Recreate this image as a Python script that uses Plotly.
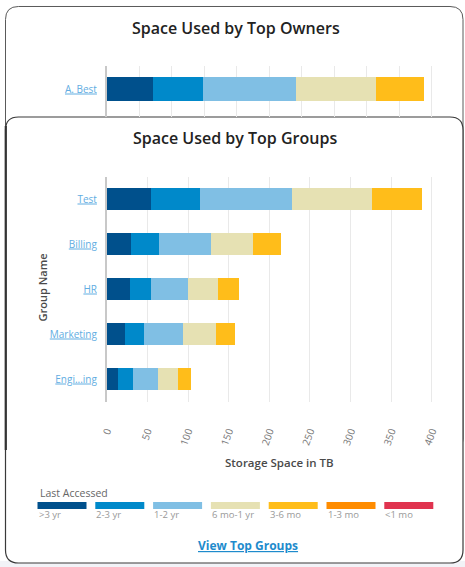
import plotly.graph_objects as go

W, H = 465, 567

# Last-accessed buckets (stack order, left to right) and their colours
buckets = [">3 yr", "2-3 yr", "1-2 yr", "6 mo-1 yr", "3-6 mo", "1-3 mo", "<1 mo"]
bucket_colors = ["#00508c", "#0089ca", "#80bfe4", "#e6e1b3", "#ffbd1a", "#ff8c00", "#e0334f"]

# Space used by top owners (TB)
owners = ["A. Best"]
owner_gt3yr = [56.6]
owner_2_3yr = [61.5]
owner_1_2yr = [114.8]
owner_6mo_1yr = [98.5]
owner_3_6mo = [58.2]
owner_1_3mo = [0]
owner_lt1mo = [0]

# Space used by top groups (TB)
groups = ["Test", "Billing", "HR", "Marketing", "Engi...ing"]
group_gt3yr = [54.5, 30.3, 28.7, 22.9, 13.9]
group_2_3yr = [60.3, 33.7, 25.5, 23.0, 18.5]
group_1_2yr = [113.2, 64.0, 45.9, 48.4, 30.4]
group_6mo_1yr = [98.8, 51.7, 37.3, 39.9, 25.0]
group_3_6mo = [60.7, 34.8, 25.8, 23.4, 16.0]
group_1_3mo = [0, 0, 0, 0, 0]
group_lt1mo = [0, 0, 0, 0, 0]

x_ticks = [0, 50, 100, 150, 200, 250, 300, 350, 400]

owner_series = [owner_gt3yr, owner_2_3yr, owner_1_2yr, owner_6mo_1yr,
                owner_3_6mo, owner_1_3mo, owner_lt1mo]
group_series = [group_gt3yr, group_2_3yr, group_1_2yr, group_6mo_1yr,
                group_3_6mo, group_1_3mo, group_lt1mo]

FONT = "Open Sans"


def px(x):
    return x / W


def py(y):
    return 1 - y / H


def rounded_rect(x0, y0, x1, y1, r):
    pts = [
        ("M", (x0 + r, y0)), ("L", (x1 - r, y0)),
        ("Q", (x1, y0), (x1, y0 + r)), ("L", (x1, y1 - r)),
        ("Q", (x1, y1), (x1 - r, y1)), ("L", (x0 + r, y1)),
        ("Q", (x0, y1), (x0, y1 - r)), ("L", (x0, y0 + r)),
        ("Q", (x0, y0), (x0 + r, y0)),
    ]
    out = []
    for cmd, *coords in pts:
        out.append(cmd + " " + " ".join(f"{px(a):.5f},{py(b):.5f}" for a, b in coords))
    return " ".join(out) + " Z"


fig = go.Figure()

for name, color, vals in zip(buckets, bucket_colors, group_series):
    fig.add_trace(go.Bar(
        x=vals, y=groups, orientation="h", name=name,
        marker=dict(color=color, line=dict(width=0)),
        xaxis="x", yaxis="y", showlegend=False,
    ))

for name, color, vals in zip(buckets, bucket_colors, owner_series):
    fig.add_trace(go.Bar(
        x=vals, y=owners, orientation="h", name=name,
        marker=dict(color=color, line=dict(width=0)),
        xaxis="x2", yaxis="y2", showlegend=False,
    ))

x_dom = [px(106.7), px(452.3)]
grid = "#e9e9e9"
axis_line = "#c8c8c8"
link_font = dict(family=FONT, size=10, color="#62ade2", lineposition="under")

# Owners card plot: clipped where the groups card starts
bar_unit = 46.0
own_top, own_bot, own_center = 66.0, 117.0, 89.0

fig.update_layout(
    width=W, height=H,
    margin=dict(l=0, r=0, t=0, b=0, autoexpand=False),
    paper_bgcolor="white",
    plot_bgcolor="rgba(0,0,0,0)",
    barmode="stack",
    bargap=0.49,
    showlegend=False,
    font=dict(family=FONT),
    xaxis=dict(
        domain=x_dom, anchor="y", range=[0, 425], automargin=False,
        tickmode="array", tickvals=x_ticks, ticktext=[str(v) for v in x_ticks],
        tickangle=-70, tickfont=dict(family=FONT, size=10, color="#777777"),
        ticks="outside", ticklen=19, tickcolor="rgba(0,0,0,0)",
        showgrid=True, gridcolor=grid, gridwidth=1, zeroline=False,
        showline=False, fixedrange=True,
    ),
    yaxis=dict(
        domain=[py(401.5), py(176.5)], anchor="x", automargin=False,
        categoryorder="array", categoryarray=groups, range=[4.5, -0.5],
        tickfont=link_font, ticks="", ticklabelstandoff=6,
        showline=True, linecolor=axis_line, linewidth=1.5,
        showgrid=False, zeroline=False, fixedrange=True,
    ),
    xaxis2=dict(
        domain=x_dom, anchor="y2", range=[0, 425], dtick=40, automargin=False,
        showticklabels=False, ticks="",
        showgrid=True, gridcolor=grid, gridwidth=1, zeroline=False,
        showline=False, fixedrange=True,
    ),
    yaxis2=dict(
        domain=[py(own_bot), py(own_top)], anchor="x2", automargin=False,
        range=[-(own_bot - own_center) / bar_unit, (own_center - own_top) / bar_unit],
        tickfont=link_font, ticks="", ticklabelstandoff=6,
        showline=True, linecolor=axis_line, linewidth=1.5,
        showgrid=False, zeroline=False, fixedrange=True,
    ),
)

shapes = []
# page strip beneath the cards
shapes.append(dict(type="rect", xref="paper", yref="paper", layer="below",
                   x0=0, x1=1, y0=py(567), y1=py(561), fillcolor="#f2f3f7",
                   line=dict(width=0)))
# back card (owners)
shapes.append(dict(type="path", xref="paper", yref="paper", layer="below",
                   path=rounded_rect(5.5, 6.5, 463, 452, 13),
                   fillcolor="white", line=dict(color="#5a5a5a", width=1)))
# front card (groups)
shapes.append(dict(type="path", xref="paper", yref="paper", layer="below",
                   path=rounded_rect(5.5, 117, 463, 563, 13),
                   fillcolor="white", line=dict(color="#3a3a3a", width=1.2)))
# overlapping left edges of the two cards
shapes.append(dict(type="line", xref="paper", yref="paper", layer="below",
                   x0=px(5.8), x1=px(5.8), y0=py(126), y1=py(450),
                   line=dict(color="#333333", width=2.2)))

# legend swatches
sw_x0, sw_w, sw_step = 37.5, 49, 57.8
for i, color in enumerate(bucket_colors):
    x0 = sw_x0 + i * sw_step
    shapes.append(dict(type="rect", xref="paper", yref="paper", layer="above",
                       x0=px(x0), x1=px(x0 + sw_w), y0=py(509), y1=py(502),
                       fillcolor=color, line=dict(width=0)))

annotations = [
    dict(text="Space Used by Top Owners", x=px(236), y=py(28), xref="paper", yref="paper",
         showarrow=False, xanchor="center", yanchor="middle",
         font=dict(family=FONT, size=16, color="#222222", weight=600)),
    dict(text="Space Used by Top Groups", x=px(235), y=py(138.5), xref="paper", yref="paper",
         showarrow=False, xanchor="center", yanchor="middle",
         font=dict(family=FONT, size=16, color="#222222", weight=600)),
    dict(text="Group Name", x=px(41.5), y=py(288), xref="paper", yref="paper",
         showarrow=False, xanchor="center", yanchor="middle", textangle=-90,
         font=dict(family=FONT, size=11, color="#4a4a4a", weight=600)),
    dict(text="Storage Space in TB", x=px(279.5), y=py(462), xref="paper", yref="paper",
         showarrow=False, xanchor="center", yanchor="middle",
         font=dict(family=FONT, size=11.5, color="#4a4a4a", weight=600)),
    dict(text="Last Accessed", x=px(37.5), y=py(492.5), xref="paper", yref="paper",
         showarrow=False, xanchor="left", yanchor="middle",
         font=dict(family=FONT, size=10.5, color="#666666")),
    dict(text="View Top Groups", x=px(248), y=py(545.5), xref="paper", yref="paper",
         showarrow=False, xanchor="center", yanchor="middle",
         font=dict(family=FONT, size=12, color="#1e8bcc", weight=700, lineposition="under")),
]
for i, name in enumerate(buckets):
    annotations.append(dict(
        text=name, x=px(sw_x0 - 1 + i * sw_step), y=py(514), xref="paper", yref="paper",
        showarrow=False, xanchor="left", yanchor="middle",
        font=dict(family=FONT, size=9.5, color="#999999"),
    ))

fig.update_layout(shapes=shapes, annotations=annotations)

fig.write_html("out.html", config={"displayModeBar": False})
